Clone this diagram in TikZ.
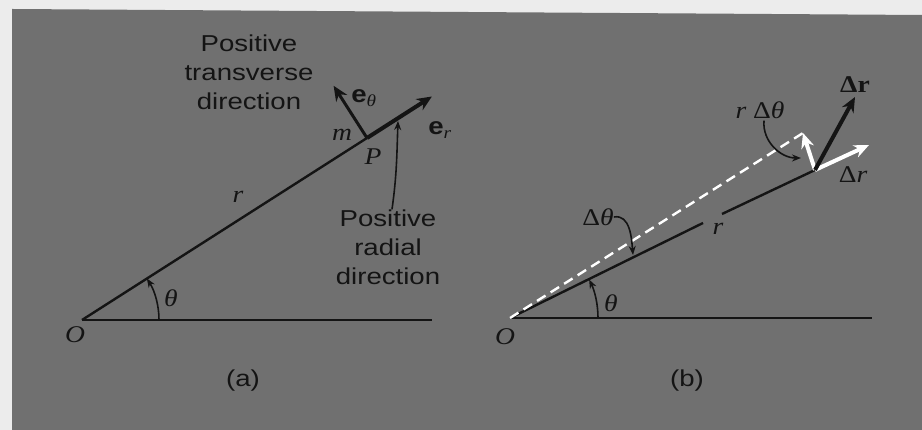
\documentclass[tikz,border=0pt]{standalone}
\usepackage{fontspec}
\setsansfont{Liberation Sans}
\newfontfamily\figserif{Liberation Serif}
\usetikzlibrary{arrows.meta, positioning, calc}
\definecolor{scangray}{RGB}{112,112,112}
\definecolor{scanedge}{RGB}{236,236,236}
\definecolor{ink}{RGB}{20,20,20}
\tikzset{caption/.style={font=\sffamily\fontsize{23}{29}\selectfont, text=ink, align=center, xscale=1.2, inner sep=0pt}}
\tikzset{sym/.style={font=\figserif\itshape\fontsize{24}{26}\selectfont, text=ink, xscale=1.15, inner sep=0pt}}
\tikzset{ray/.style={draw=ink, line width=2.4pt}}
\tikzset{vec/.style={draw=ink, line width=4pt, -{Stealth[length=15pt, width=13pt]}}}
\tikzset{whitevec/.style={draw=white, line width=4pt, -{Stealth[length=15pt, width=13pt]}}}
\tikzset{leader/.style={draw=ink, line width=1.6pt, -{Stealth[length=9pt, width=7pt]}}}
\tikzset{rotated/.style={draw=white, line width=2.4pt, dash pattern=on 10pt off 6pt}}
\newcommand{\unitvec}[1]{{\sffamily\bfseries\upshape e}\textsubscript{#1}}
\newcommand{\updelta}{{\upshape Δ}}

\begin{document}
\begin{tikzpicture}[x=1pt, y=1pt]
\useasboundingbox (0,0) rectangle (922,430);
\fill[scanedge] (0,0) rectangle (922,430);
\fill[scangray] (12,421) -- (922,415) -- (922,0) -- (12,0) -- cycle;

% (a) polar coordinates of the particle
\coordinate (Oa) at (82,110);
\coordinate (Xa) at (432,110);
\coordinate (P) at (367,292);
\coordinate (ertip) at ($(P)+(32.6:77)$);
\coordinate (ethtip) at ($(P)+(122.6:62)$);
\draw[ray] (Oa) -- (Xa);
\draw[ray] (Oa) -- (P);
\draw[vec] (P) -- (ertip);
\draw[vec, line width=3pt] (P) -- (ethtip);
\draw[leader] ($(Oa)+(77,0)$) arc[start angle=0, end angle=32.6, radius=77];

\node[sym] (Oalbl) at (75,95) {O};
\node[sym] (thalbl) at (171,132) {θ};
\node[sym] (ralbl) at (238,233) {r};
\node[sym] (Plbl) at (373,273) {P};
\node[sym] (mlbl) at (342,295) {m};
\node[sym] (ethlbl) at (364,332) {\unitvec{θ}};
\node[sym] (erlbl) at (440,300) {\unitvec{r}};

\node[caption] (transverse) at (249,358) {Positive\\transverse\\direction};
\node[caption] (radial) at (388,183) {Positive\\radial\\direction};
\coordinate (radialhit) at (398,309);
\draw[leader] (radial.north) ++(4,0) to[out=82, in=-92] (radialhit);

\node[caption] (capa) at (243,49) {(a)};

% (b) change of the position vector
\coordinate (Ob) at (510,112);
\coordinate (Xb) at (872,112);
\coordinate (Q) at (815,260);
\coordinate (gapa) at (703,207);
\coordinate (gapb) at (722,216);
\coordinate (D) at (803,297);
\coordinate (drtip) at (855,333);
\coordinate (radtip) at (869,285);
\draw[ray] (Ob) -- (Xb);
\draw[ray] (Ob) -- (gapa);
\draw[ray] (gapb) -- (Q);
\draw[rotated] (Ob) -- (D);
\draw[whitevec] (Q) -- (D);
\draw[whitevec] (Q) -- (radtip);
\draw[vec] (Q) -- (drtip);
\draw[leader] ($(Ob)+(88,0)$) arc[start angle=0, end angle=25.9, radius=88];

\node[sym] (Oblbl) at (505,93) {O};
\node[sym] (thblbl) at (611,127) {θ};
\node[sym] (rblbl) at (718,201) {r};
\node[sym] (dthlbl) at (598,213) {\updelta θ};
\node[sym] (rdthlbl) at (760,320) {r \updelta θ};
\node[sym] (drlbl) at (855,345) {\upshape\bfseries Δr};
\node[sym] (dralbl) at (853,255) {\updelta r};

\coordinate (dthhit) at (633,175);
\coordinate (rdthhit) at (801,272);
\draw[leader] (dthlbl.east) to[out=10, in=95] (dthhit);
\draw[leader] (rdthlbl.south) ++(4,-2) to[out=-95, in=180] (rdthhit);

\node[caption] (capb) at (687,49) {(b)};
\end{tikzpicture}
\end{document}
